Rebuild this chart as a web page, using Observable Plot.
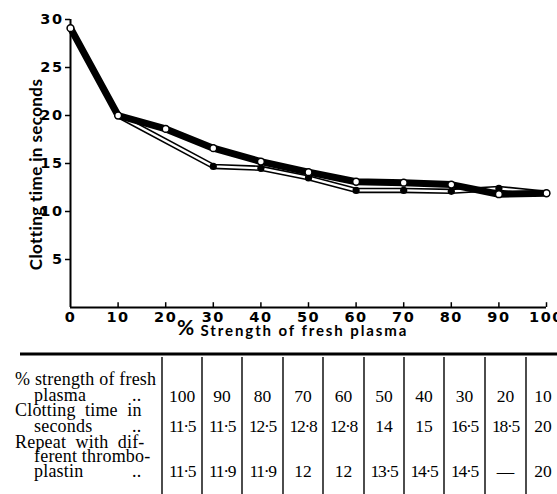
<!DOCTYPE html>
<html>
<head>
<meta charset="utf-8">
<script src="https://cdn.jsdelivr.net/npm/d3@7"></script>
<script src="https://cdn.jsdelivr.net/npm/@observablehq/plot@0.6"></script>
<style>
  html, body { margin: 0; padding: 0; background: #fff; }
  #wrap { position: relative; width: 557px; height: 494px; overflow: hidden; }
  #table { position: absolute; left: 0; top: 345px; }
</style>
</head>
<body>
<div id="wrap"><div id="chart"></div><div id="table"></div></div>
<script>
// ---- chart data ----
const strengthAll = [0, 10, 20, 30, 40, 50, 60, 70, 80, 90, 100];
const clottingOpen = [29.1, 20, 18.6, 16.6, 15.2, 14.1, 13.1, 13.0, 12.8, 11.8, 11.9];
const strengthRepeat = [10, 30, 40, 50, 60, 70, 80, 90, 100];
const clottingRepeat = [20, 14.7, 14.5, 13.5, 12.2, 12.2, 12.1, 12.4, 11.9];
const xTicks = [0, 10, 20, 30, 40, 50, 60, 70, 80, 90, 100];
const yTicks = [5, 10, 15, 20, 25, 30];
const yLabel = "Clotting time in seconds";
const xLabel = "Strength of fresh plasma";

// ---- table data ----
const tableStrength = [100, 90, 80, 70, 60, 50, 40, 30, 20, 10];
const tableClotting = [11.5, 11.5, 12.5, 12.8, 12.8, 14, 15, 16.5, 18.5, 20];
const tableRepeat = [11.5, 11.9, 11.9, 12, 12, 13.5, 14.5, 14.5, null, 20];

const openData = strengthAll.map((s, i) => ({s, t: clottingOpen[i]}));
const repeatData = strengthRepeat.map((s, i) => ({s, t: clottingRepeat[i]}));

const chart = Plot.plot({
  width: 557, height: 345,
  marginTop: 19, marginBottom: 38, marginLeft: 70, marginRight: 11,
  style: {fontFamily: "Lato", fontWeight: "bold", fontSize: "16px", color: "#000", background: "#fff", overflow: "visible"},
  x: {domain: [0, 100]},
  y: {domain: [0, 30]},
  marks: [
    Plot.axisY({ticks: yTicks, tickSize: 5, tickPadding: 2, label: null, strokeWidth: 1.5,
      fontFamily: "DejaVu Sans", fontSize: 14.5, className: "tick"}),
    Plot.axisX({ticks: xTicks, tickSize: 0, tickPadding: 4, label: null,
      fontFamily: "DejaVu Sans", fontSize: 14.5, className: "tick"}),
    Plot.ruleX(xTicks.slice(1), {y1: 0, y2: 0.5, strokeWidth: 1.5}),
    Plot.ruleY([0], {strokeWidth: 2}),
    Plot.ruleX([0], {strokeWidth: 2}),
    Plot.line(repeatData, {x: "s", y: "t", stroke: "#000", strokeWidth: 5.5}),
    Plot.line(repeatData, {x: "s", y: "t", stroke: "#fff", strokeWidth: 2.3}),
    Plot.line(openData, {x: "s", y: "t", stroke: "#000", strokeWidth: 7}),
    Plot.dot(repeatData, {x: "s", y: "t", r: 3.6, fill: "#000", stroke: "none"}),
    Plot.dot(openData, {x: "s", y: "t", r: 3.4, fill: "#fff", stroke: "#000", strokeWidth: 1.5}),
    Plot.text([yLabel], {frameAnchor: "left", textAnchor: "middle", rotate: -90, dx: -34, dy: 11, fontSize: 17, className: "ylab"}),
    Plot.text(["%"], {frameAnchor: "bottom", dx: -123, dy: 27, fontSize: 21}),
    Plot.text([xLabel], {frameAnchor: "bottom", textAnchor: "start", dx: -108, dy: 28, fontSize: 15, className: "xlab"})
  ]
});
document.getElementById("chart").appendChild(chart);
d3.select(chart).selectAll(".xlab text").style("letter-spacing", "1.9px");
d3.select(chart).selectAll(".ylab text").style("letter-spacing", "0.4px");
d3.select(chart).selectAll(".tick text").style("letter-spacing", "1.5px");

// ---- table ----
const W = 557, H = 149, top0 = 345;
const svg = d3.select("#table").append("svg").attr("width", W).attr("height", H)
  .style("font-family", "'Liberation Serif', serif");
const Y = v => v - top0;
svg.append("line").attr("x1", 20).attr("x2", W).attr("y1", Y(354)).attr("y2", Y(354))
  .attr("stroke", "#000").attr("stroke-width", 3);
const colX = [162, 202, 242, 283, 323, 364, 404, 444, 485, 526, 567];
colX.slice(0, 10).forEach(x => svg.append("line").attr("x1", x).attr("x2", x)
  .attr("y1", Y(357)).attr("y2", H).attr("stroke", "#000").attr("stroke-width", 1.4));
const fmt = v => v == null ? "\u2014" : String(v).replace(".", "\u00b7");
const rows = [[tableStrength, 402], [tableClotting, 432], [tableRepeat, 477]];
rows.forEach(([vals, by]) => {
  vals.forEach((v, i) => {
    const cx = i < 9 ? (colX[i] + colX[i + 1]) / 2 : 543;
    const s = fmt(v);
    svg.append("text").attr("x", cx).attr("y", Y(by)).attr("text-anchor", "middle")
      .style("font-size", "17.5px")
      .style("letter-spacing", s.includes("\u00b7") ? "-1.3px" : "0px").text(s);
  });
});
const labels = [
  ["% strength of fresh", 15, 385], ["plasma", 34, 401], ["..", 132, 401],
  ["Clotting  time  in", 15, 416], ["seconds", 34, 432], ["..", 132, 432],
  ["Repeat  with  dif-", 15, 448], ["ferent thrombo-", 34, 462], ["plastin", 34, 477], ["..", 132, 477]
];
labels.forEach(([t, x, y]) => svg.append("text").attr("x", x).attr("y", Y(y))
  .style("font-size", "18px").style("letter-spacing", "0.2px").style("white-space", "pre").text(t));
</script>
</body>
</html>
